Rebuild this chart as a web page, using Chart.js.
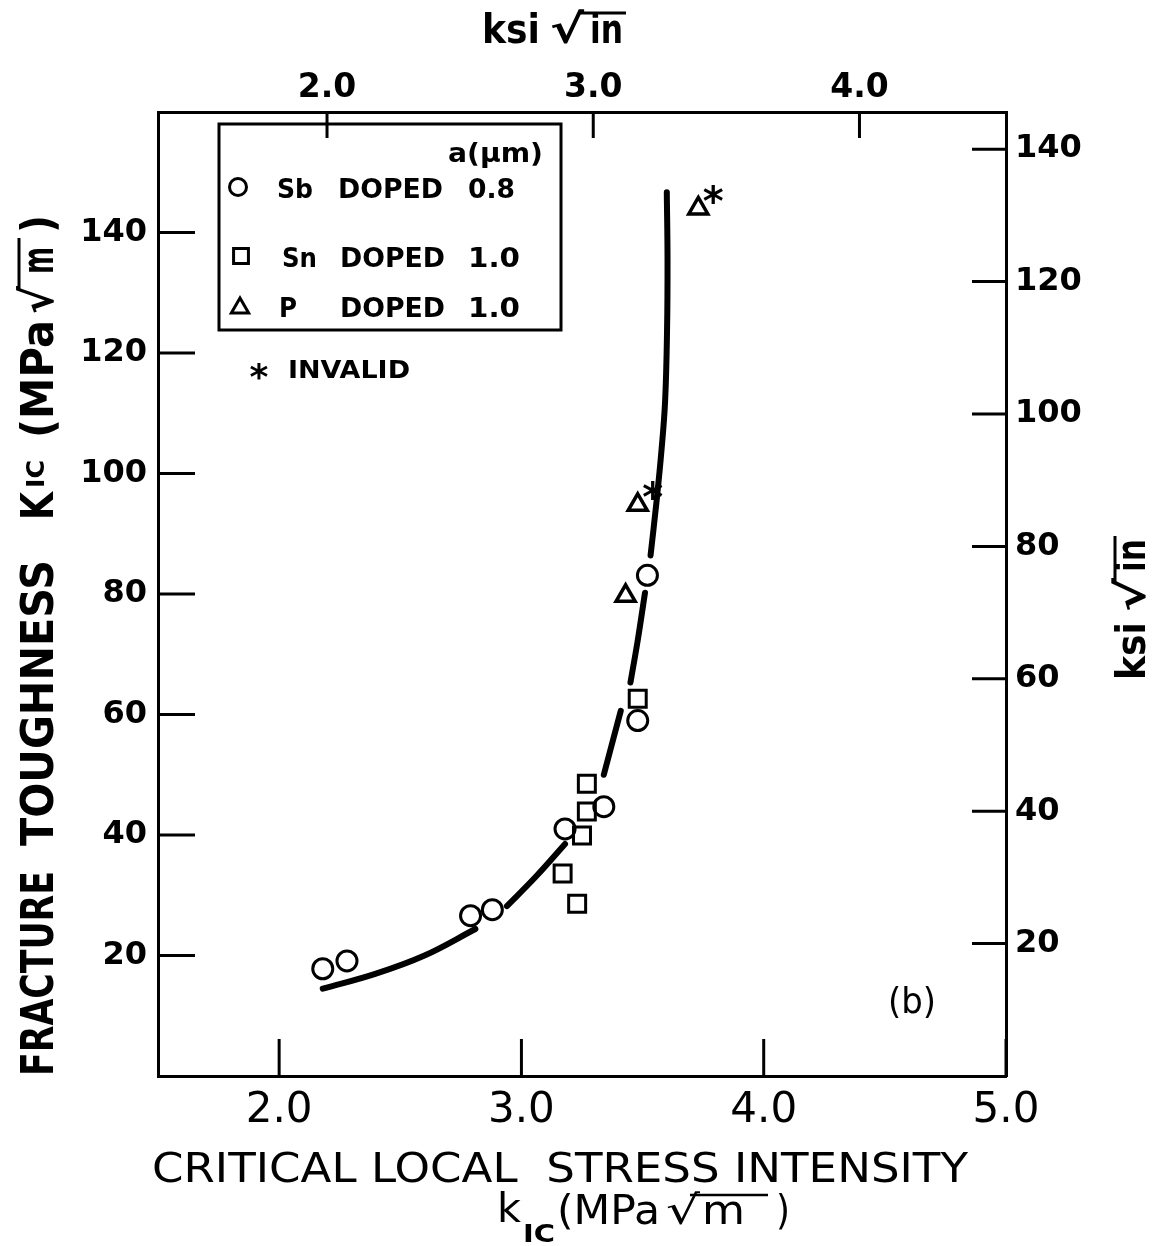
<!DOCTYPE html>
<html>
<head>
<meta charset="utf-8">
<script src="https://cdn.jsdelivr.net/npm/chart.js@4.4.1/dist/chart.umd.min.js"></script>
<style>
  html, body { margin: 0; padding: 0; background: #fff; }
  #wrap { width: 1154px; height: 1246px; }
</style>
</head>
<body>
<div id="wrap"><canvas id="toughness" width="1154" height="1246"></canvas></div>
<script>
// 1 ksi*sqrt(in) = 1.0988 MPa*sqrt(m)
const MPA_PER_KSI = 1.0988;

// Sb doped, a = 0.8 um
const sbX = [2.18, 2.28, 2.79, 2.88, 3.18, 3.34, 3.48, 3.52];
const sbY = [17.8, 19.1, 26.6, 27.6, 41.0, 44.7, 59.0, 83.1];
// Sn doped, a = 1.0 um
const snX = [3.17, 3.23, 3.25, 3.27, 3.27, 3.48];
const snY = [33.6, 28.6, 39.9, 43.9, 48.5, 62.6];
// P doped, a = 1.0 um (two of them invalid)
const pX = [3.43, 3.48, 3.73];
const pY = [79.7, 94.8, 144.0];
const pInvalid = [false, true, true];

// hand-drawn trend curve, null = pen lifted
const curveX = [2.18, 2.40, 2.60, 2.81, null, 2.94, 3.06, 3.18, null, 3.34, 3.41, null,
  3.45, 3.48, 3.51, null, 3.533, 3.558, 3.578, 3.593, 3.601, 3.603, 3.600];
const curveY = [14.5, 17.0, 20.0, 24.4, null, 28.2, 33.1, 38.5, null, 50.0, 60.6, null,
  65.3, 72.3, 80.2, null, 86.4, 95.5, 103.8, 112.0, 123.7, 135.4, 146.7];

// axis ticks
const kTicks = [2.0, 3.0, 4.0, 5.0];            // bottom, MPa sqrt(m)
const KTicks = [20, 40, 60, 80, 100, 120, 140]; // left, MPa sqrt(m)
const ksiTopTicks = [2.0, 3.0, 4.0];
const ksiRightTicks = [20, 40, 60, 80, 100, 120, 140];

const xMin = 1.5, xMax = 5.0, yMin = 0, yMax = 160;

const toPoints = (xs, ys) => xs.map((x, i) => ({ x: x === null ? xs[i - 1] : x, y: ys[i] }));

const FONT = 'DejaVu Sans';
Chart.defaults.font.family = FONT;
Chart.defaults.color = '#000';

function fixTicks(values) {
  return (scale) => { scale.ticks = values.map((v) => ({ value: v })); };
}

// text squeezed/stretched to a given run length, optionally rotated to read upward
function fitText(ctx, text, from, to, base, font, vertical) {
  ctx.save();
  ctx.font = font;
  const w = ctx.measureText(text).width;
  if (vertical) {
    ctx.translate(base, from);
    ctx.rotate(-Math.PI / 2);
  } else {
    ctx.translate(from, base);
  }
  ctx.scale(Math.abs(to - from) / w, 1);
  ctx.textAlign = 'left';
  ctx.textBaseline = 'alphabetic';
  ctx.fillText(text, 0, 0);
  ctx.restore();
}

function bar(ctx, from, to, at, vertical) {
  ctx.beginPath();
  if (vertical) {
    ctx.moveTo(at, from);
    ctx.lineTo(at, to);
  } else {
    ctx.moveTo(from, at);
    ctx.lineTo(to, at);
  }
  ctx.stroke();
}

// asterisk glyph centred on (x, y)
function star(ctx, x, y, size) {
  ctx.save();
  ctx.font = 'bold ' + size + 'px ' + FONT;
  ctx.textAlign = 'center';
  ctx.textBaseline = 'alphabetic';
  ctx.fillText('*', x, y + size * 0.59);
  ctx.restore();
}

function marker(ctx, style, radius, x, y) {
  const opts = { pointStyle: style, radius: radius, rotation: 0, borderWidth: 3 };
  ctx.save();
  ctx.strokeStyle = '#000';
  ctx.fillStyle = 'rgba(0,0,0,0)';
  ctx.lineWidth = 3;
  Chart.helpers.drawPoint(ctx, opts, x, y);
  ctx.restore();
}

const decorations = {
  id: 'decorations',
  afterDraw(chart) {
    const { ctx, chartArea: a, scales } = chart;
    ctx.save();
    ctx.strokeStyle = '#000';
    ctx.fillStyle = '#000';
    ctx.lineWidth = 3;

    // tick marks point into the frame
    scales.x.ticks.forEach((t) => {
      const px = scales.x.getPixelForValue(t.value);
      bar(ctx, a.bottom, a.bottom - 37, px, true);
    });
    scales.x2.ticks.forEach((t) => {
      const px = scales.x2.getPixelForValue(t.value);
      bar(ctx, a.top, a.top + 26, px, true);
    });
    scales.y.ticks.forEach((t) => {
      const py = scales.y.getPixelForValue(t.value);
      bar(ctx, a.left, a.left + 37, py, false);
    });
    scales.y2.ticks.forEach((t) => {
      const py = scales.y2.getPixelForValue(t.value);
      bar(ctx, a.right, a.right - 34, py, false);
    });

    // asterisks on invalid points
    pInvalid.forEach((bad, i) => {
      if (!bad) return;
      const px = scales.x.getPixelForValue(pX[i]);
      const py = scales.y.getPixelForValue(pY[i]);
      star(ctx, px + 15, py - 17, 40);
    });

    // key
    ctx.strokeRect(219, 124, 342, 206);
    const kf = 'bold 27px ' + FONT;
    fitText(ctx, 'a(\u03bcm)', 448, 543, 162, kf);
    marker(ctx, 'circle', 8.5, 238, 187);
    fitText(ctx, 'Sb', 277, 313, 198, kf);
    fitText(ctx, 'DOPED', 338, 443, 198, kf);
    fitText(ctx, '0.8', 468, 515, 198, kf);
    marker(ctx, 'rect', 10.5, 241, 256);
    fitText(ctx, 'Sn', 282, 317, 267, kf);
    fitText(ctx, 'DOPED', 340, 445, 267, kf);
    fitText(ctx, '1.0', 468, 520, 267, kf);
    marker(ctx, 'triangle', 10, 240, 308);
    fitText(ctx, 'P', 279, 297, 317, kf);
    fitText(ctx, 'DOPED', 340, 445, 317, kf);
    fitText(ctx, '1.0', 468, 520, 317, kf);
    star(ctx, 259, 368, 36);
    fitText(ctx, 'INVALID', 288, 410, 378, 'bold 25px ' + FONT);

    // top axis title: ksi sqrt(in)
    const tf = 'bold 40px ' + FONT;
    fitText(ctx, 'ksi', 482, 540, 43, tf);
    fitText(ctx, '\u221a', 550, 584, 43, tf);
    fitText(ctx, 'in', 590, 623, 43, tf);
    bar(ctx, 578, 626, 13, false);

    // right axis title
    fitText(ctx, 'ksi', 680, 622, 1145, tf, true);
    fitText(ctx, '\u221a', 612, 578, 1145, tf, true);
    fitText(ctx, 'in', 572, 539, 1145, tf, true);
    bar(ctx, 582, 536, 1115, true);

    // left axis title
    const lf = 'bold 44px ' + FONT;
    fitText(ctx, 'FRACTURE', 1076, 871, 53, lf, true);
    fitText(ctx, 'TOUGHNESS', 846, 560, 53, lf, true);
    fitText(ctx, 'K', 520, 492, 53, lf, true);
    fitText(ctx, 'IC', 488, 460, 44, 'bold 24px ' + FONT, true);
    fitText(ctx, '(MPa', 438, 320, 53, lf, true);
    fitText(ctx, '\u221a', 314, 286, 53, lf, true);
    fitText(ctx, 'm', 274, 247, 53, lf, true);
    fitText(ctx, ')', 233, 215, 53, lf, true);
    bar(ctx, 290, 238, 19, true);

    // bottom axis title
    const bf = '40px ' + FONT;
    fitText(ctx, 'CRITICAL LOCAL  STRESS INTENSITY', 152, 968, 1182, bf);
    fitText(ctx, 'k', 497, 521, 1222, bf);
    fitText(ctx, 'IC', 523, 555, 1242, 'bold 24px ' + FONT);
    fitText(ctx, '(MPa', 557, 660, 1224, bf);
    fitText(ctx, '\u221a', 666, 700, 1224, bf);
    fitText(ctx, 'm', 702, 745, 1224, bf);
    fitText(ctx, ')', 776, 790, 1224, bf);
    ctx.lineWidth = 2.5;
    bar(ctx, 690, 768, 1195, false);

    // panel tag
    fitText(ctx, '(b)', 888, 936, 1013, '36px ' + FONT);
    ctx.restore();
  }
};

const hollow = 'rgba(0,0,0,0)';

new Chart('toughness', {
  type: 'scatter',
  data: {
    datasets: [
      {
        label: 'Sb DOPED',
        data: toPoints(sbX, sbY),
        pointStyle: 'circle',
        pointRadius: 10,
        borderWidth: 3,
        borderColor: '#000',
        backgroundColor: hollow,
      },
      {
        label: 'Sn DOPED',
        data: toPoints(snX, snY),
        pointStyle: 'rect',
        pointRadius: 12,
        borderWidth: 3,
        borderColor: '#000',
        backgroundColor: hollow,
      },
      {
        label: 'P DOPED',
        data: toPoints(pX, pY),
        pointStyle: 'triangle',
        pointRadius: 11,
        borderWidth: 3.5,
        borderColor: '#000',
        backgroundColor: hollow,
      },
      {
        label: 'trend',
        data: toPoints(curveX, curveY),
        showLine: true,
        spanGaps: false,
        tension: 0.4,
        pointRadius: 0,
        borderWidth: 6,
        borderColor: '#000',
        borderCapStyle: 'round',
        borderJoinStyle: 'round',
      },
    ],
  },
  options: {
    responsive: false,
    animation: false,
    events: [],
    layout: { padding: 0 },
    plugins: { legend: { display: false }, tooltip: { enabled: false } },
    scales: {
      x: {
        type: 'linear',
        position: 'bottom',
        min: xMin,
        max: xMax,
        afterBuildTicks: fixTicks(kTicks),
        afterFit: (s) => { s.height = 170; },
        grid: { display: false, drawTicks: false },
        border: { display: true, color: '#000', width: 3 },
        ticks: { padding: 10, font: { size: 42 }, callback: (v) => v.toFixed(1) },
      },
      x2: {
        type: 'linear',
        position: 'top',
        min: xMin / MPA_PER_KSI,
        max: xMax / MPA_PER_KSI,
        afterBuildTicks: fixTicks(ksiTopTicks),
        afterFit: (s) => { s.height = 112; },
        grid: { display: false, drawTicks: false },
        border: { display: true, color: '#000', width: 3 },
        ticks: { padding: 4, font: { size: 33, weight: 'bold' }, callback: (v) => v.toFixed(1) },
      },
      y: {
        type: 'linear',
        position: 'left',
        min: yMin,
        max: yMax,
        afterBuildTicks: fixTicks(KTicks),
        afterFit: (s) => { s.width = 158; },
        grid: { display: false, drawTicks: false },
        border: { display: true, color: '#000', width: 3 },
        ticks: { padding: 11, font: { size: 32, weight: 'bold' } },
      },
      y2: {
        type: 'linear',
        position: 'right',
        min: yMin / MPA_PER_KSI,
        max: yMax / MPA_PER_KSI,
        afterBuildTicks: fixTicks(ksiRightTicks),
        afterFit: (s) => { s.width = 148; },
        grid: { display: false, drawTicks: false },
        border: { display: true, color: '#000', width: 3 },
        ticks: { padding: 9, font: { size: 32, weight: 'bold' } },
      },
    },
  },
  plugins: [decorations],
});
</script>
</body>
</html>
